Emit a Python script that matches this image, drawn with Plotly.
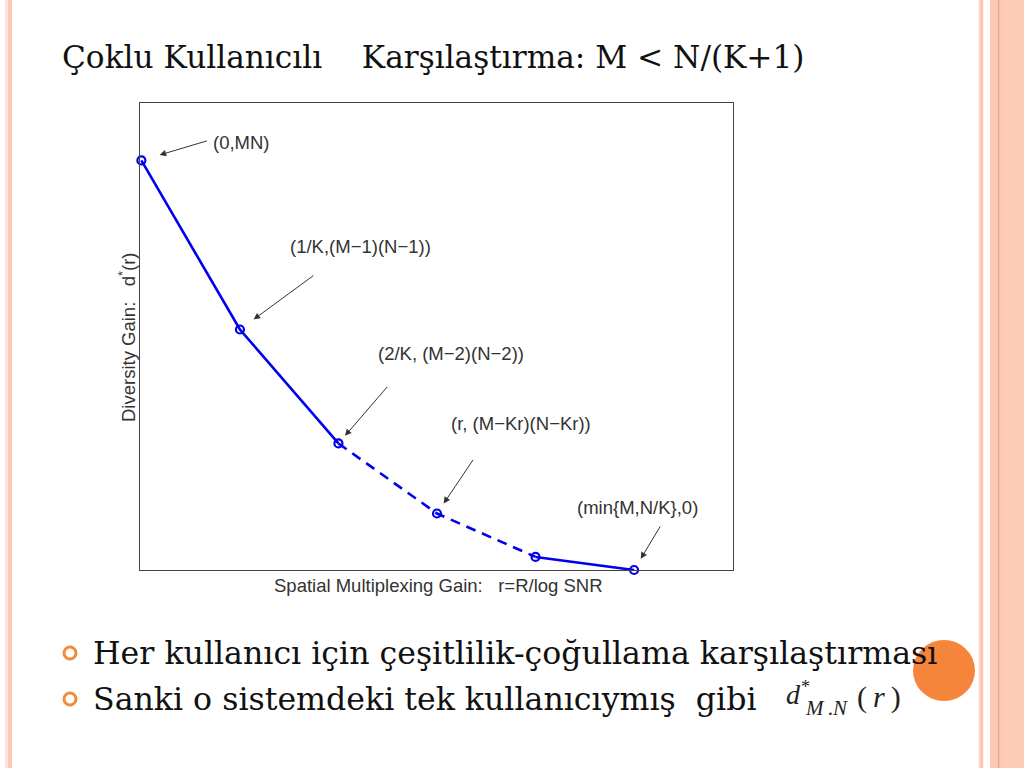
import plotly.graph_objects as go

# ---------------- data ----------------
rate_steps = [0, 1, 2, 3, 4, 5]                 # multiplexing gain in units of 1/K
diversity = [8.77, 5.15, 2.71, 1.21, 0.28, 0.0]  # diversity gain
segment_dash = ["solid", "solid", "dash", "dash", "solid"]  # segment i -> i+1
point_labels = ["(0,MN)", "(1/K,(M\u22121)(N\u22121))", "(2/K, (M\u22122)(N\u22122))",
                "(r, (M\u2212Kr)(N\u2212Kr))", None, "(min{M,N/K},0)"]

slide_title = "Çoklu Kullanıcılı\u00a0\u00a0\u00a0\u00a0Karşılaştırma: M < N/(K+1)"
bullets = ["Her kullanıcı için çeşitlilik-çoğullama karşılaştırması",
           "Sanki o sistemdeki tek kullanıcıymış\u00a0 gibi"]
x_title = "Spatial Multiplexing Gain:\u00a0\u00a0\u00a0r=R/log SNR"
y_title = "Diversity Gain:\u00a0\u00a0\u00a0d<sup>*</sup>(r)"

# ---------------- layout geometry ----------------
W, H = 1024, 768
L, R, T, B = 140, 733, 103, 570


def xp(px):
    return (px - L) / (R - L)


def yp(py):
    return (B - py) / (B - T)


BLUE = "#0000EE"
GREY = "#333333"
SANS = "Liberation Sans, Arial"
fig = go.Figure()

# line segments grouped by style
start = 0
for i in range(1, len(segment_dash) + 1):
    if i == len(segment_dash) or segment_dash[i] != segment_dash[start]:
        fig.add_trace(go.Scatter(
            x=rate_steps[start:i + 1], y=diversity[start:i + 1], mode="lines",
            line=dict(color=BLUE, width=2.6,
                      dash="solid" if segment_dash[start] == "solid" else "10px,7px"),
            hoverinfo="skip", showlegend=False, cliponaxis=False))
        start = i

fig.add_trace(go.Scatter(
    x=rate_steps, y=diversity, mode="markers",
    marker=dict(symbol="circle-open", size=8, color=BLUE, line=dict(width=2.2, color=BLUE)),
    showlegend=False, cliponaxis=False))

annotations = []
shapes = []

# point labels + arrows
label_shift = [(100, 18), (121, 83), (113, 90), (84, 90), None, (3, 63)]
arrow_geom = [(67, -20, 19), (75, -55, 17), (50, -58, 10), (37, -55, 12), None, (27, -45, 13)]
for i, lab in enumerate(point_labels):
    if lab is None:
        continue
    dx, dy = label_shift[i]
    annotations.append(dict(x=rate_steps[i], y=diversity[i], xref="x", yref="y",
                            text=lab, showarrow=False, xshift=dx, yshift=dy,
                            font=dict(family=SANS, size=18.5, color=GREY)))
    ax, ay, so = arrow_geom[i]
    annotations.append(dict(x=rate_steps[i], y=diversity[i], xref="x", yref="y",
                            text="", showarrow=True, ax=ax, ay=ay, standoff=so,
                            arrowhead=2, arrowsize=1.3, arrowwidth=1, arrowcolor=GREY))

# axis titles
annotations.append(dict(x=xp(438), y=yp(585), xref="paper", yref="paper", text=x_title,
                        showarrow=False, xanchor="center", yanchor="middle",
                        font=dict(family=SANS, size=18.5, color=GREY)))
annotations.append(dict(x=xp(127), y=yp(337), xref="paper", yref="paper", text=y_title,
                        showarrow=False, textangle=-90, xanchor="center", yanchor="middle",
                        font=dict(family=SANS, size=18.5, color=GREY)))

SERIF = "DejaVu Serif"
annotations.append(dict(x=xp(60), y=yp(57), xref="paper", yref="paper", text=slide_title,
                        showarrow=False, xanchor="left", yanchor="middle",
                        font=dict(family=SERIF, size=31.2, color="#111111")))
for k, (txt, cy) in enumerate(zip(bullets, [653, 699])):
    annotations.append(dict(x=xp(91), y=yp(cy), xref="paper", yref="paper", text=txt,
                            showarrow=False, xanchor="left", yanchor="middle",
                            font=dict(family=SERIF, size=31.6, color="#111111")))
    shapes.append(dict(type="circle", xref="paper", yref="paper",
                       x0=xp(64), x1=xp(76), y0=yp(cy + 6), y1=yp(cy - 6),
                       line=dict(color="#F28A3C", width=3), fillcolor="rgba(0,0,0,0)"))

# formula d*_{M.N}(r)
FM = "Liberation Serif"
annotations += [
    dict(x=xp(793), y=yp(694), text="<i>d</i>", font=dict(family=FM, size=28, color="#222222")),
    dict(x=xp(805), y=yp(687), text="*", font=dict(family=FM, size=18, color="#222222")),
    dict(x=xp(826), y=yp(708), text="<i>M</i>\u2009.<i>N</i>",
         font=dict(family=FM, size=21, color="#222222")),
    dict(x=xp(879), y=yp(697), text="(\u2009<i>r</i>\u2009)",
         font=dict(family=FM, size=30, color="#222222")),
]
for a in annotations[-4:]:
    a.update(xref="paper", yref="paper", showarrow=False, xanchor="center", yanchor="middle")

# orange decoration circle
shapes.append(dict(type="circle", xref="paper", yref="paper", layer="above",
                   x0=xp(913), x1=xp(975), y0=yp(701), y1=yp(640),
                   line=dict(width=0), fillcolor="#F5853A"))

# side stripes
SAL = "#FCC9B6"
stripes = [(978.5, 979.5, "#FBE3D6"), (979.5, 983.3, SAL), (990, 1024, SAL),
           (1006, 1024, "#FDCBB7"), (998, 999.2, "#E3A185"),
           (5, 8, "#FBE6DA"), (8, 12, SAL)]
for x0, x1, c in stripes:
    shapes.append(dict(type="rect", xref="paper", yref="paper", layer="below",
                       x0=xp(x0), x1=xp(x1), y0=yp(H), y1=yp(0),
                       line=dict(width=0), fillcolor=c))

axis_common = dict(showgrid=False, zeroline=False, showticklabels=False, ticks="",
                   showline=True, mirror=True, linecolor="#444444", linewidth=1.4, fixedrange=True)
fig.update_layout(
    width=W, height=H, margin=dict(l=L, r=W - R, t=T, b=H - B, pad=0),
    paper_bgcolor="white", plot_bgcolor="white",
    xaxis=dict(range=[-0.014, 6.004], **axis_common),
    yaxis=dict(range=[0, 10.0], **axis_common),
    annotations=annotations, shapes=shapes, showlegend=False,
)

fig.write_html("out.html", config={"displayModeBar": False},
               post_script="document.body.style.margin='0';document.body.style.overflow='hidden';")
